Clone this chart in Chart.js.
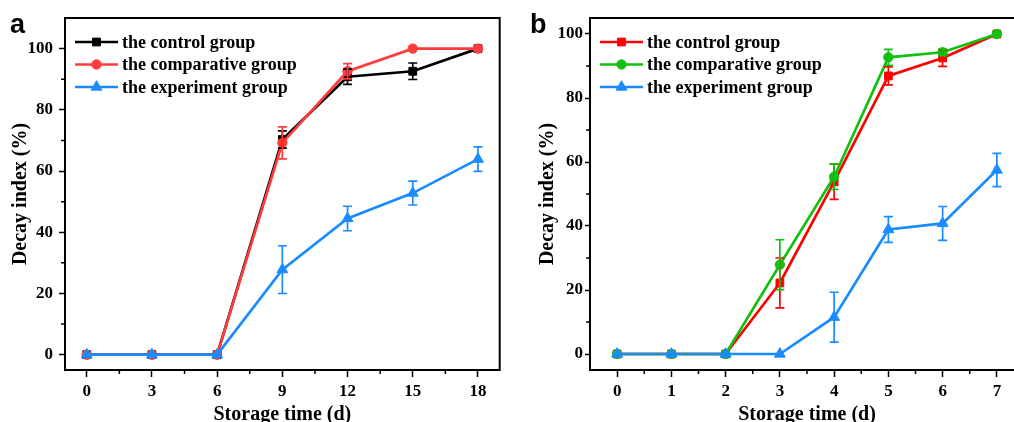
<!DOCTYPE html>
<html>
<head>
<meta charset="utf-8">
<script src="https://cdn.jsdelivr.net/npm/chart.js@4.4.1/dist/chart.umd.min.js"></script>
<style>
  html, body { margin: 0; padding: 0; background: #fff; }
  #wrap { position: relative; width: 1014px; height: 422px; overflow: hidden; background: #fff; }
  #ca { position: absolute; left: 0; top: 0; }
  #cb { position: absolute; left: 507px; top: 0; }
</style>
</head>
<body>
<div id="wrap">
  <div id="ca" style="width:507px;height:422px;"><canvas id="chartA"></canvas></div>
  <div id="cb" style="width:530px;height:422px;"><canvas id="chartB"></canvas></div>
</div>
<script>
// ---------- Data: panel a ----------
const aDays = [0, 3, 6, 9, 12, 15, 18];
const aControl = [0, 0, 0, 70.3, 90.8, 92.6, 100];
const aControlErr = [0, 0, 0, 2.8, 2.5, 2.7, 0];
const aComparative = [0, 0, 0, 69.2, 92.6, 100, 100];
const aComparativeErr = [0, 0, 0, 5.2, 2.5, 0, 0];
const aExperiment = [0, 0, 0, 27.8, 44.5, 52.8, 63.9];
const aExperimentErr = [0, 0, 0, 7.8, 4.0, 3.9, 4.0];
const aXTicks = [0, 3, 6, 9, 12, 15, 18];
const aYTicks = [0, 20, 40, 60, 80, 100];
const aXMinor = [1.5, 4.5, 7.5, 10.5, 13.5, 16.5];
const aYMinor = [10, 30, 50, 70, 90];

// ---------- Data: panel b ----------
const bDays = [0, 1, 2, 3, 4, 5, 6, 7];
const bControl = [0, 0, 0, 22.2, 53.8, 86.9, 92.5, 100];
const bControlErr = [0, 0, 0, 7.8, 5.5, 2.8, 2.6, 0];
const bComparative = [0, 0, 0, 27.9, 55.4, 92.7, 94.3, 100];
const bComparativeErr = [0, 0, 0, 7.8, 4.0, 2.5, 1.0, 0];
const bExperiment = [0, 0, 0, 0, 11.5, 38.9, 40.8, 57.5];
const bExperimentErr = [0, 0, 0, 0, 7.8, 4.0, 5.3, 5.2];
const bXTicks = [0, 1, 2, 3, 4, 5, 6, 7];
const bYTicks = [0, 20, 40, 60, 80, 100];
const bXMinor = [0.5, 1.5, 2.5, 3.5, 4.5, 5.5, 6.5];
const bYMinor = [10, 30, 50, 70, 90];

const seriesNames = ['the control group', 'the comparative group', 'the experiment group'];
const xTitle = 'Storage time (d)';
const yTitle = 'Decay index (%)';

const SERIF = "'Liberation Serif', 'Times New Roman', serif";
const SANS = "'Liberation Sans', Arial, sans-serif";

function pts(xs, ys) { return xs.map((x, i) => ({ x: x, y: ys[i] })); }

const errorBarPlugin = {
  id: 'errorBars',
  afterDatasetsDraw(chart) {
    const ctx = chart.ctx;
    const xs = chart.scales.x, ys = chart.scales.y;
    const metas = chart.getSortedVisibleDatasetMetas().slice().reverse();
    metas.forEach(meta => {
      const ds = chart.data.datasets[meta.index];
      if (!ds.errors) return;
      ctx.save();
      ctx.strokeStyle = ds.borderColor;
      ctx.lineWidth = 1.7;
      ds.data.forEach((p, i) => {
        const e = ds.errors[i];
        if (!e) return;
        const px = xs.getPixelForValue(p.x);
        const top = ys.getPixelForValue(p.y + e);
        const bot = ys.getPixelForValue(p.y - e);
        ctx.beginPath();
        ctx.moveTo(px, top); ctx.lineTo(px, bot);
        ctx.moveTo(px - 4.5, top); ctx.lineTo(px + 4.5, top);
        ctx.moveTo(px - 4.5, bot); ctx.lineTo(px + 4.5, bot);
        ctx.stroke();
      });
      ctx.restore();
    });
  }
};

const framePlugin = {
  id: 'frame',
  afterDraw(chart, args, opts) {
    const ctx = chart.ctx;
    const a = chart.chartArea;
    const xs = chart.scales.x, ys = chart.scales.y;
    ctx.save();
    ctx.strokeStyle = '#000';
    ctx.lineWidth = 2;
    ctx.strokeRect(a.left, a.top, a.right - a.left, a.bottom - a.top);
    // minor ticks
    ctx.lineWidth = 1.5;
    ctx.beginPath();
    (opts.xMinor || []).forEach(v => {
      const px = xs.getPixelForValue(v);
      ctx.moveTo(px, a.bottom); ctx.lineTo(px, a.bottom + 4);
    });
    (opts.yMinor || []).forEach(v => {
      const py = ys.getPixelForValue(v);
      ctx.moveTo(a.left, py); ctx.lineTo(a.left - 4, py);
    });
    ctx.stroke();
    // panel label
    ctx.fillStyle = '#000';
    ctx.font = 'bold 27px ' + SANS;
    ctx.textBaseline = 'alphabetic';
    ctx.textAlign = 'left';
    ctx.fillText(opts.label, opts.labelX, 33);
    // legend
    const lx = a.left + 10, ly = a.top + 24;
    chart.data.datasets.forEach((ds, i) => {
      const y = ly + i * 22.5;
      ctx.strokeStyle = ds.borderColor;
      ctx.lineWidth = 2.7;
      ctx.beginPath();
      ctx.moveTo(lx, y); ctx.lineTo(lx + 43, y);
      ctx.stroke();
      ctx.fillStyle = ds.backgroundColor;
      ctx.strokeStyle = ds.borderColor;
      ctx.lineWidth = 1;
      Chart.helpers.drawPoint(ctx, { pointStyle: ds.pointStyle, radius: ds.pointRadius, borderWidth: 1, rotation: 0 }, lx + 21.5, y);
      ctx.fillStyle = '#000';
      ctx.font = 'bold 18px ' + SERIF;
      ctx.textBaseline = 'middle';
      ctx.textAlign = 'left';
      ctx.fillText(ds.label, lx + 47, y + 1);
    });
    ctx.restore();
  }
};

function makeDataset(label, xs, ys, errs, color, style, radius, order) {
  return {
    label: label,
    data: pts(xs, ys),
    errors: errs,
    borderColor: color,
    backgroundColor: color,
    pointBackgroundColor: color,
    pointBorderColor: color,
    pointStyle: style,
    pointRadius: radius,
    pointBorderWidth: 1,
    borderWidth: 2.7,
    tension: 0,
    order: order
  };
}

function makeChart(id, cfg) {
  return new Chart(document.getElementById(id), {
    type: 'line',
    data: { datasets: cfg.datasets },
    options: {
      responsive: true,
      maintainAspectRatio: false,
      animation: false,
      devicePixelRatio: 1,
      layout: { padding: { left: 0, right: cfg.padRight, top: 18, bottom: 0 } },
      plugins: {
        legend: { display: false },
        tooltip: { enabled: false },
        frame: { xMinor: cfg.xMinor, yMinor: cfg.yMinor, label: cfg.label, labelX: cfg.labelX }
      },
      scales: {
        x: {
          type: 'linear',
          min: cfg.xMin, max: cfg.xMax,
          afterBuildTicks: s => { s.ticks = cfg.xTicks.map(v => ({ value: v })); },
          afterFit: s => { s.height = 52; },
          grid: { display: true, drawOnChartArea: false, drawTicks: true, tickLength: 7, tickColor: '#000', tickWidth: 1.5 },
          border: { display: false },
          ticks: { color: '#000', padding: 4, font: { family: SERIF, size: 17, weight: 'bold' }, maxRotation: 0, autoSkip: false },
          title: { display: true, text: xTitle, color: '#000', padding: { top: 0, bottom: -3 }, font: { family: SERIF, size: 20, weight: 'bold', lineHeight: 1 } }
        },
        y: {
          type: 'linear',
          min: -5, max: cfg.yMax,
          afterBuildTicks: s => { s.ticks = cfg.yTicks.map(v => ({ value: v })); },
          afterFit: s => { s.width = cfg.yWidth; },
          grid: { display: true, drawOnChartArea: false, drawTicks: true, tickLength: cfg.yTickLen, tickColor: '#000', tickWidth: 1.5 },
          border: { display: false },
          ticks: { color: '#000', padding: cfg.yTickPad, font: { family: SERIF, size: 17, weight: 'bold' }, autoSkip: false },
          title: { display: true, text: yTitle, color: '#000', padding: { top: cfg.yTitlePad, bottom: 0 }, font: { family: SERIF, size: 20, weight: 'bold', lineHeight: 1 } }
        }
      }
    },
    plugins: [errorBarPlugin, framePlugin]
  });
}

makeChart('chartA', {
  datasets: [
    makeDataset(seriesNames[0], aDays, aControl, aControlErr, '#000000', 'rect', 5.5, 2),
    makeDataset(seriesNames[1], aDays, aComparative, aComparativeErr, '#ff3b3b', 'circle', 4.7, 1),
    makeDataset(seriesNames[2], aDays, aExperiment, aExperimentErr, '#1a8cff', 'triangle', 6.3, 0)
  ],
  xMin: -1, xMax: 19, xTicks: aXTicks, yTicks: aYTicks, yMax: 110,
  xMinor: aXMinor, yMinor: aYMinor,
  padRight: 7, yWidth: 65, yTickLen: 6, yTickPad: 6, yTitlePad: 11,
  label: 'a', labelX: 10
});

makeChart('chartB', {
  datasets: [
    makeDataset(seriesNames[0], bDays, bControl, bControlErr, '#ff0000', 'rect', 5.5, 2),
    makeDataset(seriesNames[1], bDays, bComparative, bComparativeErr, '#11c011', 'circle', 4.7, 1),
    makeDataset(seriesNames[2], bDays, bExperiment, bExperimentErr, '#1a8cff', 'triangle', 6.3, 0)
  ],
  xMin: -0.5, xMax: 7.5, xTicks: bXTicks, yTicks: bYTicks, yMax: 105,
  xMinor: bXMinor, yMinor: bYMinor,
  padRight: 13, yWidth: 83, yTickLen: 5, yTickPad: 2, yTitlePad: 31,
  label: 'b', labelX: 23
});
</script>
</body>
</html>
